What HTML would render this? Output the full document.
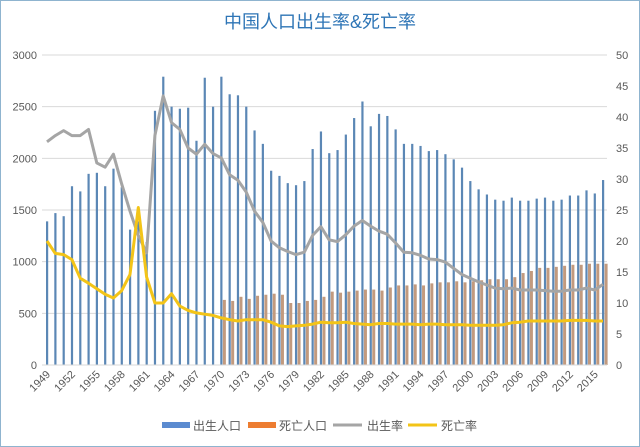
<!DOCTYPE html>
<html><head><meta charset="utf-8"><style>
html,body{margin:0;padding:0;background:#fff}
svg{display:block;font-family:"Liberation Sans","Noto Sans CJK SC",sans-serif}
</style></head><body>
<svg id="s" width="640" height="447" viewBox="0 0 640 447"></svg>
<script>
const B=[1390,1470,1440,1730,1680,1850,1860,1730,1900,1720,1310,1390,1190,2460,2790,2500,2480,2490,2170,2780,2500,2790,2620,2610,2500,2270,2140,1880,1830,1760,1740,1780,2090,2260,2050,2080,2230,2390,2550,2310,2430,2410,2280,2140,2140,2120,2070,2080,2040,1990,1910,1780,1700,1650,1600,1590,1620,1590,1590,1610,1620,1590,1600,1640,1640,1690,1660,1790];
const D=[630,620,660,640,670,680,690,680,600,600,620,630,660,710,700,710,720,730,730,720,750,770,770,780,770,790,800,800,810,800,810,820,830,830,830,850,890,910,940,940,950,960,970,970,980,980,980];
const BR=[36,37,37.8,37,37,38,32.6,31.9,34,29.2,24.8,20.9,18.1,37,43.4,39.1,38,35,34,35.6,34.1,33.4,30.7,29.8,27.9,24.8,23.0,20,18.9,18.3,17.8,18.2,20.9,22.3,20.2,19.9,21.0,22.4,23.3,22.4,21.6,21.1,19.7,18.2,18.1,17.7,17.1,17.0,16.6,15.6,14.6,14.0,13.4,12.9,12.4,12.3,12.4,12.1,12.1,12.1,12.0,11.9,11.9,12.1,12.1,12.4,12.1,13.0];
const DR=[20,18,17.8,17,14,13.2,12.3,11.4,10.8,12,14.6,25.4,14.2,10,10,11.5,9.5,8.8,8.4,8.2,8,7.6,7.3,7.1,7.3,7.3,7.3,6.9,6.3,6.2,6.3,6.4,6.6,6.9,6.8,6.8,6.9,6.7,6.6,6.5,6.7,6.7,6.6,6.6,6.6,6.5,6.6,6.6,6.5,6.5,6.5,6.4,6.4,6.4,6.4,6.5,6.8,6.9,7.1,7.1,7.1,7.1,7.1,7.2,7.2,7.2,7.1,7.1];
const y0=365,yt=55,h=y0-yt;
const X=i=>47+i*(556/67);
const YL=v=>y0-v/3000*h, YR=v=>y0-v/50*h;
let s='<rect x="0.5" y="0.5" width="639" height="446" fill="#fff" stroke="#8fb4cf"/>';
s+='<text x="320" y="28" text-anchor="middle" font-size="18" fill="#2e75b6">中国人口出生率&amp;死亡率</text>';
for(let k=0;k<=6;k++){const y=YL(k*500);s+=`<line x1="42" x2="607" y1="${y}" y2="${y}" stroke="#d9d9d9"/>`;
s+=`<text x="37" y="${y+4}" text-anchor="end" font-size="11" fill="#595959">${k*500}</text>`;}
for(let k=0;k<=10;k++){s+=`<text x="616" y="${YR(k*5)+4}" font-size="11" fill="#595959">${k*5}</text>`;}
B.forEach((v,i)=>{s+=`<rect x="${X(i)-1}" y="${YL(v)}" width="2.2" height="${y0-YL(v)}" fill="#5b87b5"/>`;});
D.forEach((v,j)=>{const i=j+21;s+=`<rect x="${X(i)+1.6}" y="${YL(v)}" width="3" height="${y0-YL(v)}" fill="#c29a7e"/>`;});
s+=`<polyline fill="none" stroke="#a5a5a5" stroke-width="3" stroke-linejoin="round" points="${BR.map((v,i)=>X(i).toFixed(1)+','+YR(v).toFixed(1)).join(' ')}"/>`;
s+=`<polyline fill="none" stroke="#f3c417" stroke-width="3" stroke-linejoin="round" points="${DR.map((v,i)=>X(i).toFixed(1)+','+YR(v).toFixed(1)).join(' ')}"/>`;
s+=`<line x1="42" x2="607" y1="${y0}" y2="${y0}" stroke="#d9d9d9"/>`;
for(let i=0;i<68;i+=3){const x=X(i);s+=`<text transform="translate(${x+4},${y0+10}) rotate(-45)" text-anchor="end" font-size="11" fill="#595959">${1949+i}</text>`;}
s+='<rect x="162" y="422" width="28" height="6" fill="#5b8bd0"/><text x="193" y="430" font-size="12" fill="#595959">出生人口</text>';
s+='<rect x="248" y="422" width="28" height="6" fill="#ed7d31"/><text x="279" y="430" font-size="12" fill="#595959">死亡人口</text>';
s+='<line x1="333" x2="362" y1="425" y2="425" stroke="#a5a5a5" stroke-width="3"/><text x="367" y="430" font-size="12" fill="#595959">出生率</text>';
s+='<line x1="408" x2="437" y1="425" y2="425" stroke="#f3c417" stroke-width="3"/><text x="441" y="430" font-size="12" fill="#595959">死亡率</text>';
document.getElementById('s').innerHTML=s;
</script>
</body></html>
